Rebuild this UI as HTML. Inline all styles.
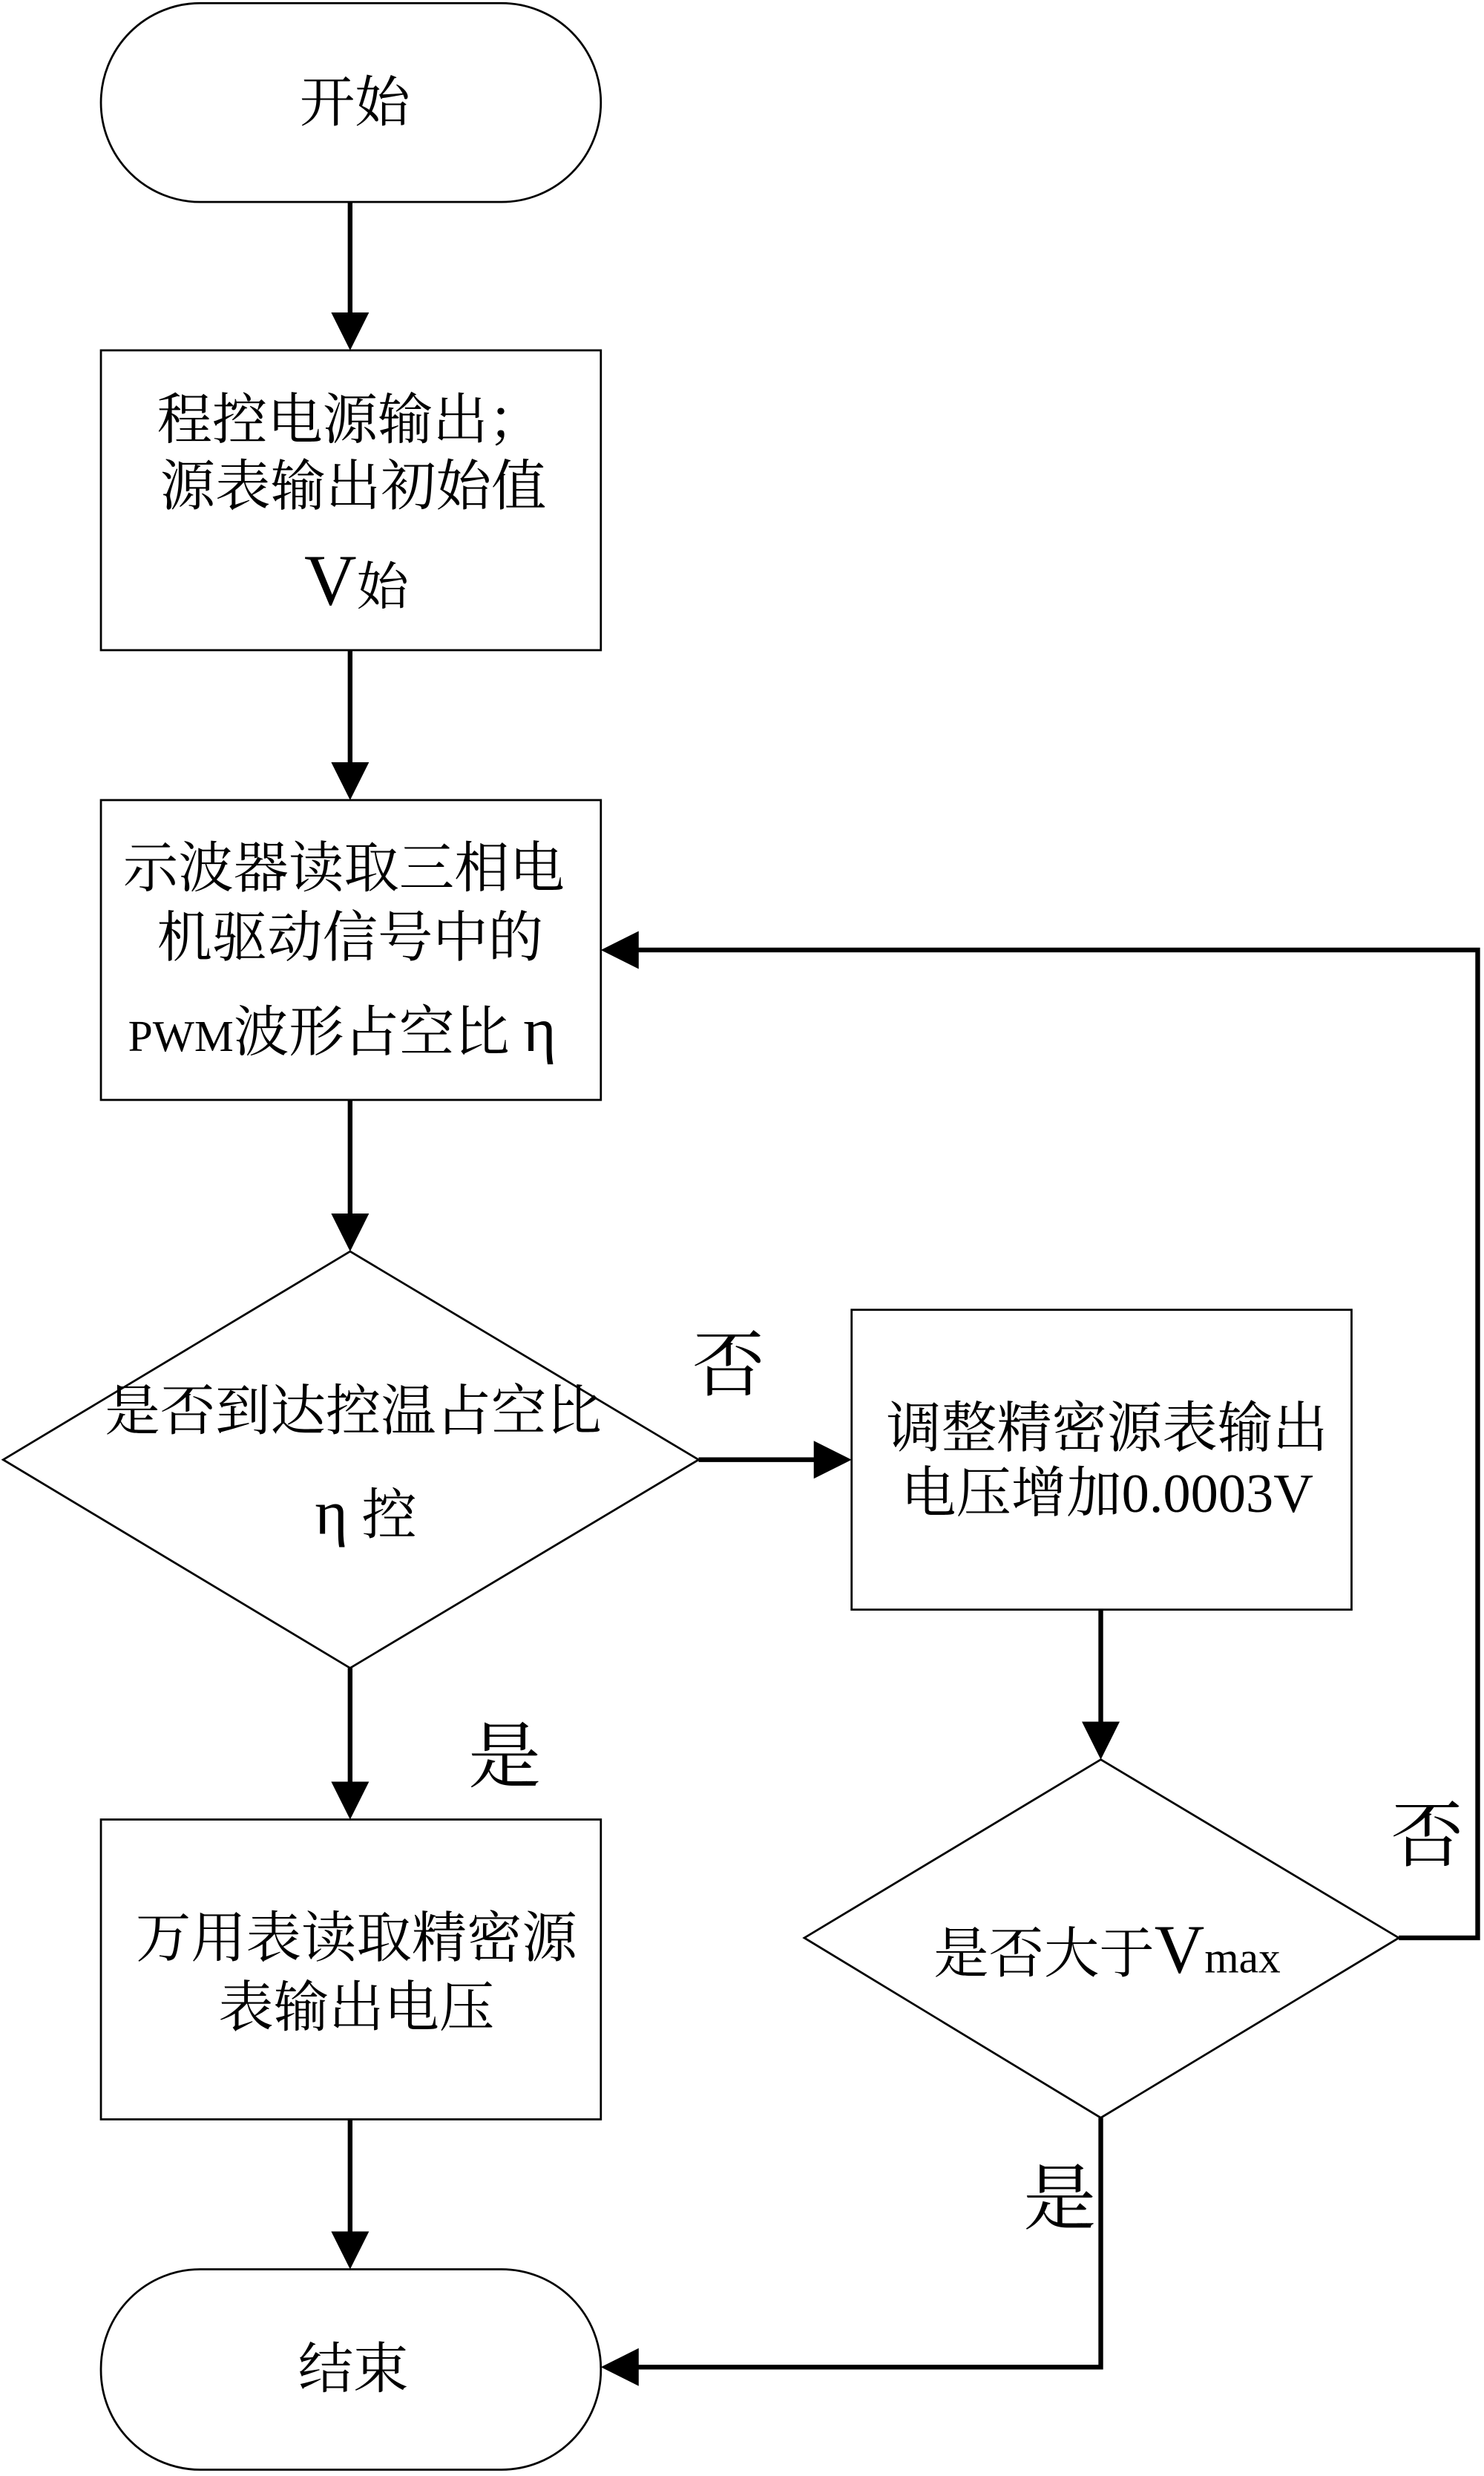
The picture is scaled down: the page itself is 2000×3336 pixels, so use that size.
<!DOCTYPE html>
<html><head><meta charset="utf-8"><style>
html,body{margin:0;padding:0;background:#fff;}
svg{display:block;}
text{font-family:"Liberation Serif","Noto Serif CJK SC",serif;fill:#000;}
</style></head><body>
<svg width="2000" height="3336" viewBox="0 0 941 1569" preserveAspectRatio="none" xmlns="http://www.w3.org/2000/svg">
<g fill="none" stroke="#000" stroke-width="1.3">
<rect x="64" y="2" width="317" height="126" rx="63" ry="63"/>
<rect x="64" y="222" width="317" height="190"/>
<rect x="64" y="507" width="317" height="190"/>
<polygon points="222,793 443,925 222,1057 2,925"/>
<rect x="540" y="830" width="317" height="190"/>
<polygon points="698,1115 887,1228 698,1342 510,1228"/>
<rect x="64" y="1153" width="317" height="190"/>
<rect x="64" y="1438" width="317" height="127" rx="63" ry="63"/>
</g>
<g fill="none" stroke="#000" stroke-width="3">
<line x1="222" y1="128" x2="222" y2="200"/>
<line x1="222" y1="412" x2="222" y2="485"/>
<line x1="222" y1="697" x2="222" y2="771"/>
<line x1="443" y1="925" x2="518" y2="925"/>
<line x1="698" y1="1020" x2="698" y2="1093"/>
<polyline points="887,1228 937,1228 937,602 403,602"/>
<line x1="222" y1="1057" x2="222" y2="1131"/>
<line x1="222" y1="1343" x2="222" y2="1416"/>
<polyline points="698,1342 698,1500 403,1500"/>
</g>
<g fill="#000">
<polygon points="210,198 234,198 222,222"/>
<polygon points="210,483 234,483 222,507"/>
<polygon points="210,769 234,769 222,793"/>
<polygon points="516,913 516,937 540,925"/>
<polygon points="686,1091 710,1091 698,1115"/>
<polygon points="405,590 405,614 381,602"/>
<polygon points="210,1129 234,1129 222,1153"/>
<polygon points="210,1414 234,1414 222,1438"/>
<polygon points="405,1488 405,1512 381,1500"/>
</g>
<g font-size="35" text-anchor="middle">
<text x="225" y="77">开始</text>
<text x="222" y="278">程控电源输出；</text>
<text x="224" y="320">源表输出初始值</text>
<text x="226" y="383"><tspan font-size="46">V</tspan><tspan font-size="33">始</tspan></text>
<text x="218" y="562">示波器读取三相电</text>
<text x="222" y="606">机驱动信号中的</text>
<text x="217" y="666"><tspan font-size="28">PWM</tspan>波形占空比 <tspan font-size="40">η</tspan></text>
<text x="224" y="906">是否到达控温占空比</text>
<text x="232" y="972"><tspan font-size="40">η</tspan> 控</text>
<text x="702" y="917">调整精密源表输出</text>
<text x="702" y="958">电压增加0.0003V</text>
<text x="702" y="1250">是否大于<tspan font-size="44">V</tspan><tspan font-size="28">max</tspan></text>
<text x="226" y="1240">万用表读取精密源</text>
<text x="226" y="1284">表输出电压</text>
<text x="224" y="1513">结束</text>
</g>
<g font-size="46" text-anchor="middle">
<text x="462" y="881">否</text>
<text x="320" y="1129">是</text>
<text x="905" y="1179">否</text>
<text x="672" y="1409">是</text>
</g>
</svg>
</body></html>
